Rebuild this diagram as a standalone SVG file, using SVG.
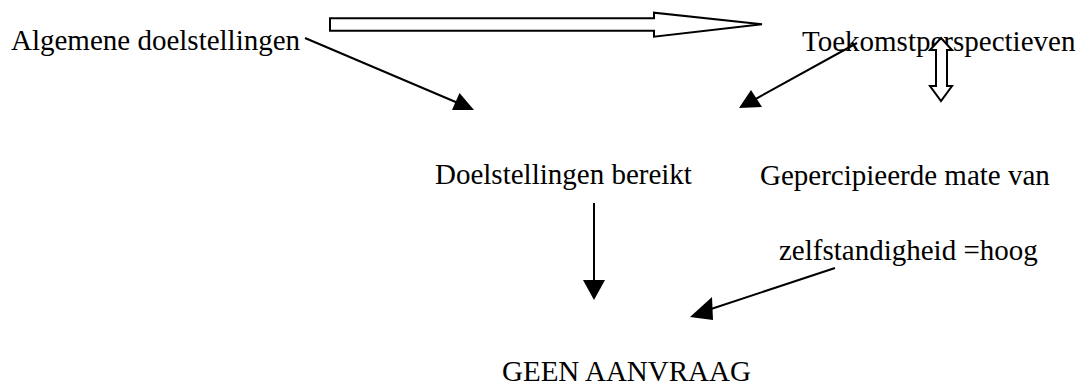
<svg xmlns="http://www.w3.org/2000/svg" width="1082" height="387" viewBox="0 0 1082 387">
<style>
text{font-family:"Liberation Serif","Times New Roman",serif;font-size:29px;fill:#000}
.ln{stroke:#000;stroke-width:2;fill:none}
.hd{fill:#000;stroke:none}
.blk{fill:#fff;stroke:#000;stroke-width:2;stroke-linejoin:miter}
</style>
<rect width="1082" height="387" fill="#fff"/>
<g id="n-algemene"><text x="11" y="50">Algemene doelstellingen</text></g>
<g id="n-toekomst"><text x="802" y="51">Toekomstperspectieven</text></g>
<g id="n-doel"><text x="435" y="184">Doelstellingen bereikt</text></g>
<g id="n-gepercipieerd"><text x="760" y="185">Gepercipieerde mate van</text><text x="779" y="260">zelfstandigheid =hoog</text></g>
<g id="n-geen"><text x="502" y="381">GEEN AANVRAAG</text></g>
<g id="connectors">
<polygon class="blk" points="330,18.3 654,18.3 654,12.7 762,24.3 654,36.7 654,30.7 330,30.7"/>
<polygon class="blk" points="941,38 952,50 947,50 947,86 952,86 941,101 930,86 936,86 936,50 930,50"/>
<line class="ln" x1="305" y1="38" x2="458" y2="103"/>
<polygon class="hd" points="474,110 452,110 459.5,93"/>
<line class="ln" x1="857" y1="43" x2="752" y2="101"/>
<polygon class="hd" points="739,108 762,107 751,90"/>
<line class="ln" x1="594" y1="203" x2="594" y2="282"/>
<polygon class="hd" points="594,300 583,280 605,280"/>
<line class="ln" x1="835" y1="268" x2="705" y2="311"/>
<polygon class="hd" points="690,317 712,297 713,320"/>
</g>
</svg>
